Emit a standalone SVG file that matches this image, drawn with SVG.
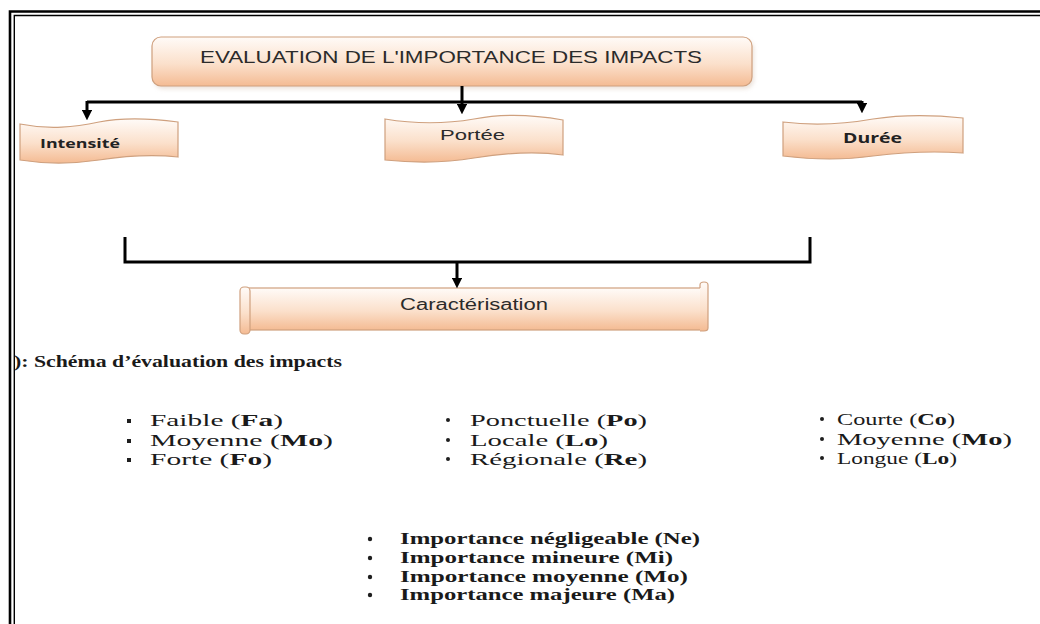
<svg xmlns="http://www.w3.org/2000/svg" width="1040" height="624" viewBox="0 0 1040 624">
  <style>
    .sans { font-family: "Liberation Sans", Arial, sans-serif; fill: #2b2b2b; }
    .humanist { font-family: "Open Sans", "Liberation Sans", sans-serif; font-weight: bold; fill: #222; }
    .serif { font-family: "Liberation Serif", "Times New Roman", serif; fill: #1a1a1a; }
    .box { fill: url(#peach); stroke: #cfa07e; stroke-width: 1.2; }
    .wire { fill: none; stroke: #000; stroke-width: 3; }
    .arrow { fill: none; stroke: #000; stroke-width: 3; marker-end: url(#head); }
    .frame { stroke: #000; fill: none; }
    .sq { fill: #1e1e1e; }
  </style>
  <defs>
    <linearGradient id="peach" x1="0" y1="0" x2="0" y2="1">
      <stop offset="0" stop-color="#fffbf8"/>
      <stop offset="0.55" stop-color="#fbe0cb"/>
      <stop offset="1" stop-color="#f4bb93"/>
    </linearGradient>
    <marker id="head" viewBox="0 0 10 10" refX="6" refY="5" markerWidth="3.6" markerHeight="3.6" orient="auto" markerUnits="strokeWidth">
      <path d="M0,0 L10,5 L0,10 Z" fill="#000"/>
    </marker>
    <filter id="soft" x="-10%" y="-20%" width="120%" height="150%">
      <feGaussianBlur stdDeviation="2"/>
    </filter>
  </defs>

  <rect width="1040" height="624" fill="#fff"/>

  <!-- double page frame -->
  <g id="frame">
    <path class="frame" d="M10,624 V11.5 H1040" stroke-width="2.6"/>
    <path class="frame" d="M14.3,624 V15.5 H1040" stroke-width="1.4"/>
  </g>

  <!-- title node -->
  <g id="node-title">
    <rect x="154" y="40" width="600" height="49" rx="9" fill="#d8c6b8" opacity="0.5" filter="url(#soft)"/>
    <rect class="box" x="152" y="37" width="600" height="49" rx="9"/>
    <text class="sans" x="200" y="63" font-size="16.5" textLength="502" lengthAdjust="spacingAndGlyphs">EVALUATION DE L'IMPORTANCE DES IMPACTS</text>
  </g>

  <!-- punched-tape nodes -->
  <g id="node-intensite">
    <path class="box" d="M20,124 C50,130 75,127 99,122 C125,117 155,119 178,122 L178,157 C150,154 125,156 99,160 C72,164 45,164 20,160 Z"/>
    <text class="humanist" x="40" y="148" font-size="12.5" textLength="80" lengthAdjust="spacingAndGlyphs">Intensité</text>
  </g>

  <g id="node-portee">
    <path class="box" d="M385,119 C415,124 445,124 474,119 C505,113 535,115 563,120 L563,155 C535,151 505,153 474,158 C445,163 415,163 385,160 Z"/>
    <text class="sans" x="440" y="140" font-size="15.5" textLength="65" lengthAdjust="spacingAndGlyphs">Portée</text>
  </g>

  <g id="node-duree">
    <path class="box" d="M783,122 C815,126 845,124 873,119 C905,114 935,115 963,118 L963,153 C935,151 905,152 873,156 C845,160 815,160 783,156 Z"/>
    <text class="humanist" x="843" y="143" font-size="14" textLength="59" lengthAdjust="spacingAndGlyphs">Durée</text>
  </g>

  <!-- scroll node -->
  <g id="node-caracterisation">
    <rect x="245" y="288" width="461" height="42" fill="url(#peach)" stroke="#cfa07e" stroke-width="1.2"/>
    <path d="M700,288 V285 a4,3 0 0 1 8,0 V328 a4,3 0 0 1 -4,3 H700" fill="url(#peach)" stroke="#cfa07e" stroke-width="1.2"/>
    <rect x="240" y="287" width="10" height="47" rx="4" fill="url(#peach)" stroke="#cfa07e" stroke-width="1.2"/>
    <text class="sans" x="400" y="310" font-size="16" textLength="148" lengthAdjust="spacingAndGlyphs">Caractérisation</text>
  </g>

  <!-- connectors -->
  <g id="connectors">
    <path class="wire" d="M87,102 H862"/>
    <path class="arrow" d="M87,101 V116"/>
    <path class="arrow" d="M462,86 V110"/>
    <path class="arrow" d="M862,101 V109"/>
    <path class="wire" d="M125,237 V262 H810 V237"/>
    <path class="arrow" d="M457,262 V284"/>
  </g>

  <!-- caption -->
  <text class="serif" x="14" y="367" font-size="16.5" font-weight="bold" textLength="328" lengthAdjust="spacingAndGlyphs">): Schéma d’évaluation des impacts</text>

  <!-- intensity scale -->
  <g id="list-intensite" class="serif" font-size="17.5">
    <rect class="sq" x="127" y="419" width="4" height="4"/>
    <rect class="sq" x="127" y="439" width="4" height="4"/>
    <rect class="sq" x="127" y="458" width="4" height="4"/>
    <text x="150" y="426" textLength="133" lengthAdjust="spacingAndGlyphs">Faible (<tspan font-weight="bold">Fa</tspan>)</text>
    <text x="150" y="446" textLength="183" lengthAdjust="spacingAndGlyphs">Moyenne (<tspan font-weight="bold">Mo</tspan>)</text>
    <text x="150" y="465" textLength="122" lengthAdjust="spacingAndGlyphs">Forte (<tspan font-weight="bold">Fo</tspan>)</text>
  </g>

  <!-- extent scale -->
  <g id="list-portee" class="serif" font-size="17.5">
    <circle class="sq" cx="448" cy="420" r="2"/>
    <circle class="sq" cx="448" cy="440" r="2"/>
    <circle class="sq" cx="448" cy="459" r="2"/>
    <text x="470" y="426" textLength="177" lengthAdjust="spacingAndGlyphs">Ponctuelle (<tspan font-weight="bold">Po</tspan>)</text>
    <text x="470" y="446" textLength="138" lengthAdjust="spacingAndGlyphs">Locale (<tspan font-weight="bold">Lo</tspan>)</text>
    <text x="470" y="465" textLength="177" lengthAdjust="spacingAndGlyphs">Régionale (<tspan font-weight="bold">Re</tspan>)</text>
  </g>

  <!-- duration scale -->
  <g id="list-duree" class="serif" font-size="17.5">
    <circle class="sq" cx="822" cy="419" r="2"/>
    <circle class="sq" cx="822" cy="439" r="2"/>
    <circle class="sq" cx="822" cy="458" r="2"/>
    <text x="837" y="425" textLength="118" lengthAdjust="spacingAndGlyphs">Courte (<tspan font-weight="bold">Co</tspan>)</text>
    <text x="837" y="445" textLength="175" lengthAdjust="spacingAndGlyphs">Moyenne (<tspan font-weight="bold">Mo</tspan>)</text>
    <text x="837" y="464" textLength="120" lengthAdjust="spacingAndGlyphs">Longue (<tspan font-weight="bold">Lo</tspan>)</text>
  </g>

  <!-- importance levels -->
  <g id="list-importance" class="serif" font-size="16" font-weight="bold">
    <circle class="sq" cx="370" cy="539" r="2.2"/>
    <circle class="sq" cx="370" cy="558" r="2.2"/>
    <circle class="sq" cx="370" cy="577" r="2.2"/>
    <circle class="sq" cx="370" cy="595" r="2.2"/>
    <text x="400" y="544" textLength="300" lengthAdjust="spacingAndGlyphs">Importance négligeable (Ne)</text>
    <text x="400" y="563" textLength="273" lengthAdjust="spacingAndGlyphs">Importance mineure (Mi)</text>
    <text x="400" y="582" textLength="288" lengthAdjust="spacingAndGlyphs">Importance moyenne (Mo)</text>
    <text x="400" y="600" textLength="275" lengthAdjust="spacingAndGlyphs">Importance majeure (Ma)</text>
  </g>
</svg>
